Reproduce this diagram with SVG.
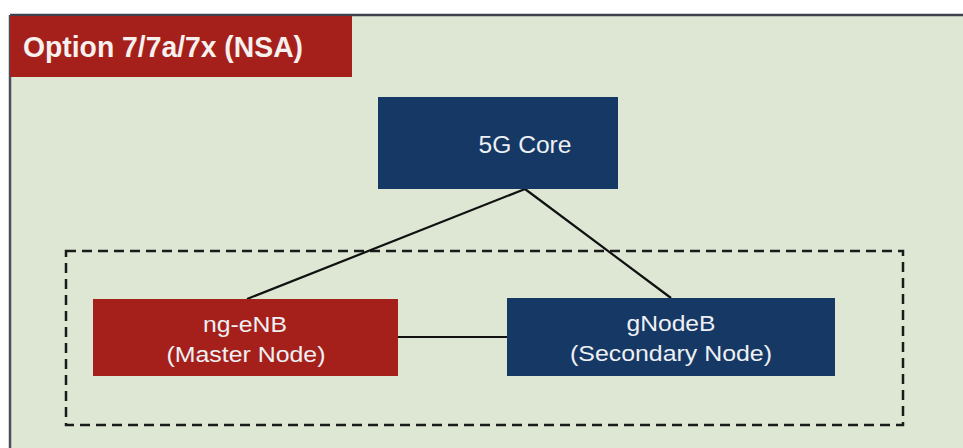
<svg xmlns="http://www.w3.org/2000/svg" width="963" height="448" viewBox="0 0 963 448">
  <style>
    .lbl { font-family: "Liberation Sans", Arial, sans-serif; fill: #eef0f4; text-anchor: middle; }
    .red { fill: #a6201b; }
    .navy { fill: #163865; }
    .conn { stroke: #111; stroke-width: 2.2; fill: none; }
  </style>
  <rect x="0" y="0" width="963" height="448" fill="#ffffff"/>
  <g id="panel">
    <rect x="10" y="15" width="960" height="440" fill="#dde7d4"/>
    <line x1="10" y1="15" x2="963" y2="15" stroke="#3c414b" stroke-width="2.5"/>
    <line x1="10" y1="15" x2="10" y2="448" stroke="#4a4f58" stroke-width="2.5"/>
  </g>
  <g id="title">
    <rect x="10" y="16" width="342" height="61" class="red"/>
    <text x="23" y="57" font-family="Liberation Sans, Arial, sans-serif" font-weight="bold" font-size="29" fill="#f6f0ee" textLength="280" lengthAdjust="spacingAndGlyphs">Option 7/7a/7x (NSA)</text>
  </g>
  <g id="ran-boundary">
    <rect x="66" y="251" width="837" height="174" fill="none" stroke="#1a1a1a" stroke-width="2.5" stroke-dasharray="10,6"/>
  </g>
  <g id="connectors">
    <line class="conn" x1="525" y1="189" x2="247" y2="299"/>
    <line class="conn" x1="525" y1="189" x2="671" y2="298"/>
    <line class="conn" x1="398" y1="337" x2="507" y2="337"/>
  </g>
  <g id="core">
    <rect x="378" y="97" width="240" height="92" class="navy"/>
    <text x="525" y="153" class="lbl" font-size="23" textLength="93" lengthAdjust="spacingAndGlyphs">5G Core</text>
  </g>
  <g id="ng-enb">
    <rect x="93" y="299" width="305" height="77" class="red"/>
    <text x="245" y="332" class="lbl" font-size="22.5" textLength="84" lengthAdjust="spacingAndGlyphs">ng-eNB</text>
    <text x="246" y="362" class="lbl" font-size="22.5" textLength="159" lengthAdjust="spacingAndGlyphs">(Master Node)</text>
  </g>
  <g id="gnodeb">
    <rect x="507" y="298" width="328" height="78" class="navy"/>
    <text x="671" y="331" class="lbl" font-size="22.5" textLength="89" lengthAdjust="spacingAndGlyphs">gNodeB</text>
    <text x="671" y="361" class="lbl" font-size="22.5" textLength="202" lengthAdjust="spacingAndGlyphs">(Secondary Node)</text>
  </g>
</svg>
